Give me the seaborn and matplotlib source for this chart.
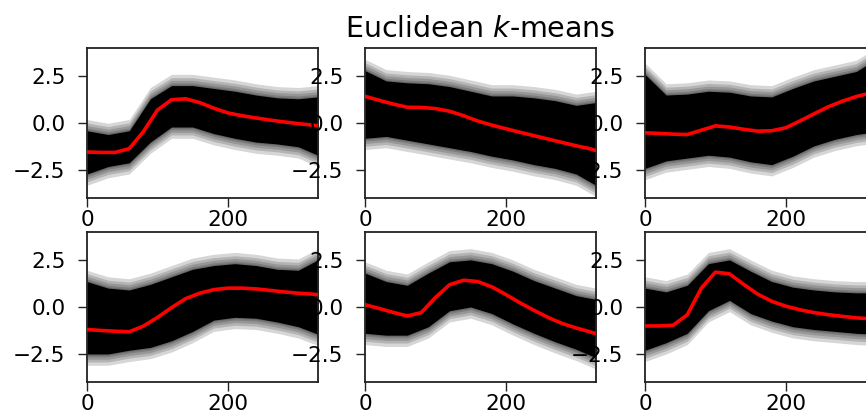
import matplotlib
matplotlib.use("Agg")
import matplotlib.pyplot as plt
import seaborn as sns
import numpy as np
import pandas as pd

title = "Euclidean $k$-means"
x_ticks = [0, 200]
y_ticks = [-2.5, 0.0, 2.5]
x_max = 328

# time grid for the cluster centres (red curves)
t_center = [0, 20, 40, 60, 80, 100, 120, 140, 160, 180, 200, 220, 240, 260, 280, 300, 320, 328]
center_1 = [-1.53, -1.55, -1.55, -1.35, -0.45, 0.70, 1.25, 1.30, 1.10, 0.80, 0.55, 0.40, 0.28, 0.17, 0.07, -0.02, -0.10, -0.13]
center_2 = [1.43, 1.22, 1.02, 0.85, 0.84, 0.78, 0.64, 0.40, 0.12, -0.10, -0.29, -0.48, -0.66, -0.84, -1.02, -1.20, -1.36, -1.45]
center_3 = [-0.51, -0.54, -0.58, -0.60, -0.37, -0.14, -0.20, -0.32, -0.42, -0.40, -0.24, 0.12, 0.50, 0.87, 1.17, 1.42, 1.60, 1.65]
center_4 = [-1.20, -1.25, -1.29, -1.32, -1.02, -0.56, -0.04, 0.44, 0.73, 0.92, 1.00, 1.00, 0.96, 0.88, 0.80, 0.73, 0.68, 0.65]
center_5 = [0.12, -0.08, -0.29, -0.48, -0.30, 0.50, 1.18, 1.42, 1.35, 1.07, 0.66, 0.22, -0.18, -0.56, -0.88, -1.12, -1.33, -1.42]
center_6 = [-1.01, -1.01, -0.97, -0.42, 1.00, 1.85, 1.76, 1.20, 0.68, 0.30, 0.04, -0.15, -0.30, -0.41, -0.50, -0.58, -0.63, -0.64]

# time grid for the envelope of the member series (black band)
t_band = [0, 30, 60, 90, 120, 150, 180, 210, 240, 270, 300, 328]
upper_1 = [-0.40, -0.60, -0.40, 1.30, 2.00, 2.00, 1.85, 1.70, 1.50, 1.35, 1.30, 1.40]
lower_1 = [-2.70, -2.30, -2.10, -1.00, -0.20, -0.20, -0.55, -0.80, -1.00, -1.10, -1.25, -1.70]
upper_2 = [2.80, 2.25, 2.15, 2.10, 1.95, 1.70, 1.45, 1.45, 1.35, 1.20, 0.95, 1.10]
lower_2 = [-0.80, -0.70, -0.90, -1.10, -1.30, -1.50, -1.75, -1.95, -2.20, -2.40, -2.70, -3.30]
upper_3 = [2.60, 1.50, 1.55, 1.70, 1.65, 1.45, 1.40, 1.85, 2.25, 2.50, 2.75, 3.40]
lower_3 = [-2.40, -2.00, -1.85, -1.70, -1.80, -2.05, -2.20, -1.75, -1.20, -0.85, -0.60, -0.45]
upper_4 = [1.35, 1.00, 0.90, 1.20, 1.60, 2.00, 2.20, 2.30, 2.20, 2.00, 1.95, 2.50]
lower_4 = [-2.50, -2.50, -2.30, -2.15, -1.80, -1.30, -0.70, -0.55, -0.60, -0.80, -1.05, -1.45]
upper_5 = [1.80, 1.35, 1.15, 1.80, 2.40, 2.50, 2.30, 1.90, 1.40, 1.00, 0.60, 0.40]
lower_5 = [-1.40, -1.50, -1.50, -1.05, -0.20, 0.00, -0.35, -0.90, -1.40, -1.85, -2.25, -2.70]
upper_6 = [1.00, 0.80, 1.15, 2.30, 2.50, 1.90, 1.35, 1.05, 0.90, 0.80, 0.75, 0.75]
lower_6 = [-2.30, -1.90, -1.40, -0.20, 0.35, -0.35, -0.75, -1.05, -1.20, -1.30, -1.40, -1.45]

centers = [center_1, center_2, center_3, center_4, center_5, center_6]
uppers = [upper_1, upper_2, upper_3, upper_4, upper_5, upper_6]
lowers = [lower_1, lower_2, lower_3, lower_4, lower_5, lower_6]

W, H = 866, 419
DPI = 100
fig = plt.figure(figsize=(W / DPI, H / DPI), dpi=DPI)

col_left = [87, 365, 645]
row_top = [48, 231.7]
ax_w, ax_h = 231, 150.5

fringe_steps = [0.6, 0.42, 0.28, 0.15, 0.06]
for i in range(6):
    r, c = divmod(i, 3)
    left = col_left[c] / W
    bottom = 1 - (row_top[r] + ax_h) / H
    ax = fig.add_axes([left, bottom, ax_w / W, ax_h / H])

    up = np.array(uppers[i])
    lo = np.array(lowers[i])
    for off in fringe_steps:
        ax.fill_between(t_band, lo - off, up + off, color="black", alpha=0.16, lw=0)
    ax.fill_between(t_band, lo, up, color="black", alpha=1.0, lw=0)

    df = pd.DataFrame({"t": t_center, "y": centers[i]})
    sns.lineplot(data=df, x="t", y="y", color="red", lw=2.6, ax=ax, zorder=5)

    ax.set_xlim(0, x_max)
    ax.set_ylim(-4, 4)
    ax.set_xticks(x_ticks)
    ax.set_yticks(y_ticks)
    ax.set_xlabel("")
    ax.set_ylabel("")
    ax.tick_params(axis="both", length=6.5, width=1.0, labelsize=15.5, color="#222222")
    ax.tick_params(axis="x", pad=2)
    ax.tick_params(axis="y", pad=9)
    for s in ax.spines.values():
        s.set_linewidth(1.3)
        s.set_color("#222222")
    if i == 1:
        ax.set_title(title, fontsize=20.5, pad=8)

fig.savefig("out.png", dpi=DPI)
